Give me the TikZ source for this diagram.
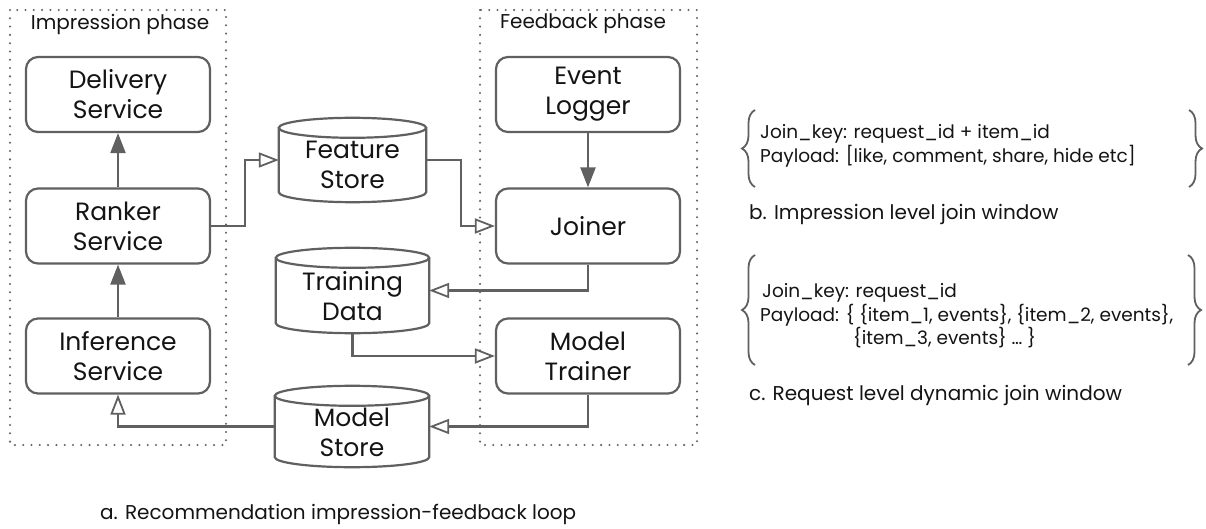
\documentclass[tikz,border=0pt]{standalone}
\usepackage{fontspec}
\setmainfont{Poppins}
\usetikzlibrary{arrows.meta,calc,decorations.pathreplacing}
\definecolor{ln}{RGB}{96,96,96}
\definecolor{tx}{RGB}{20,20,20}
\definecolor{dt}{RGB}{100,100,100}
\newcommand\drawcyl[1]{%
  \draw[cylline] let \p1=(#1.north west), \p2=(#1.south east), \n1={(\x2-\x1)/2} in
   ({(\x1+\x2)/2},{\y1-10pt}) ellipse [x radius=\n1, y radius=10pt]
   (\x1,{\y1-10pt}) -- (\x1,{\y2+10pt}) arc[start angle=180,end angle=360,x radius=\n1,y radius=10pt] -- (\x2,{\y1-10pt});}
\begin{document}
\begin{tikzpicture}[x=1pt,y=-1pt,
  every node/.style={text=tx},
  box/.style={draw=ln,line width=2.2pt,rounded corners=12pt,minimum width=184pt,minimum height=75pt,inner sep=0pt,align=center,font=\fontsize{25}{30}\selectfont},
  cylnode/.style={draw=none,inner sep=0pt},
  cylline/.style={draw=ln,line width=2.2pt},
  ctext/.style={align=center,inner sep=0pt,font=\fontsize{25}{30}\selectfont},
  phase/.style={draw=dt,line width=2.3pt,dash pattern=on 0pt off 8.3pt,line cap=round},
  phlabel/.style={inner sep=0pt,font=\fontsize{20}{24}\selectfont},
  small/.style={inner sep=0pt,anchor=base west,font=\fontsize{18.5}{22}\selectfont},
  captxt/.style={inner sep=0pt,anchor=base west,font=\fontsize{20}{24}\selectfont},
  conn/.style={draw=ln,line width=2.2pt},
  farrow/.style={conn,-{Triangle[length=20pt,width=15pt]}},
  oarrow/.style={conn,-{Triangle[open,length=20pt,width=15pt,line width=1.8pt,fill=white]}},
  brc/.style={draw=ln,line width=1.8pt,decorate,decoration={brace,amplitude=13pt,aspect=0.5}},
]
\useasboundingbox[fill=white] (0,0) rectangle (1206,529);
% phase frames
\draw[phase] (10,10) rectangle (226,445);
\draw[phase] (480,10) rectangle (697,445);
\node[phlabel] (imp) at (120,24) {Impression phase};
\node[phlabel] (fb) at (583,24) {Feedback phase};
% boxes
\node[box] (deliv) at (118,94.5) {Delivery\\Service};
\node[box] (ranker) at (118,226) {Ranker\\Service};
\node[box] (infer) at (118,356) {Inference\\Service};
\node[box] (logger) at (588,94.5) {Event\\Logger};
\node[box] (joiner) at (588,226) {Joiner};
\node[box] (trainer) at (588,356) {Model\\Trainer};
% cylinders
\node[cylnode,minimum width=147pt,minimum height=84pt] (feat) at (352.5,160) {};
\node[cylnode,minimum width=153pt,minimum height=85pt] (train) at (352.5,290.5) {};
\node[cylnode,minimum width=154pt,minimum height=81pt] (mstore) at (352,426.5) {};
\drawcyl{feat}
\drawcyl{train}
\drawcyl{mstore}
\node[ctext] (featl) at ([yshift=-5pt]feat.center) {Feature\\Store};
\node[ctext] (trainl) at ([yshift=-6pt]train.center) {Training\\Data};
\node[ctext] (mstorel) at ([yshift=-6pt]mstore.center) {Model\\Store};
% connectors
\draw[farrow] (ranker.north) -- (deliv.south);
\draw[farrow] (infer.north) -- (ranker.south);
\draw[farrow] (logger.south) -- (joiner.north);
\draw[oarrow] (ranker.east) -- ++(34,0) |- (feat.west);
\draw[oarrow] (feat.east) -- ++(35,0) |- (joiner.west);
\draw[oarrow] (joiner.south) |- (train.east);
\draw[oarrow] (train.south) |- (trainer.west);
\draw[oarrow] (trainer.south) |- (mstore.east);
\draw[oarrow] (mstore.west) -| (infer.south);
% caption a
\node[captxt] (capa) at (100,519) {a. Recommendation impression-feedback loop};
% group b
\coordinate (blb) at (755,187);
\coordinate (blt) at (755,110);
\coordinate (brt) at (1189,110);
\coordinate (brb) at (1189,187);
\draw[brc] (blb) -- (blt);
\draw[brc] (brt) -- (brb);
\node[small] (b1) at (760,139) {Join\_key: request\_id + item\_id};
\node[small] (b2) at (760,163) {Payload: [like, comment, share, hide etc]};
\node[captxt] (capb) at (749,220) {b. Impression level join window};
% group c
\coordinate (clb) at (755,365);
\coordinate (clt) at (755,255);
\coordinate (crt) at (1188,255);
\coordinate (crb) at (1188,365);
\draw[brc] (clb) -- (clt);
\draw[brc] (crt) -- (crb);
\node[small] (c1) at (762,297) {Join\_key: request\_id};
\node[small] (c2) at (760,321) {Payload: \{ \{item\_1, events\}, \{item\_2, events\},};
\node[small] (c3) at (853,344) {\{item\_3, events\} … \}};
\node[captxt] (capc) at (749,400) {c. Request level dynamic join window};
\end{tikzpicture}
\end{document}
